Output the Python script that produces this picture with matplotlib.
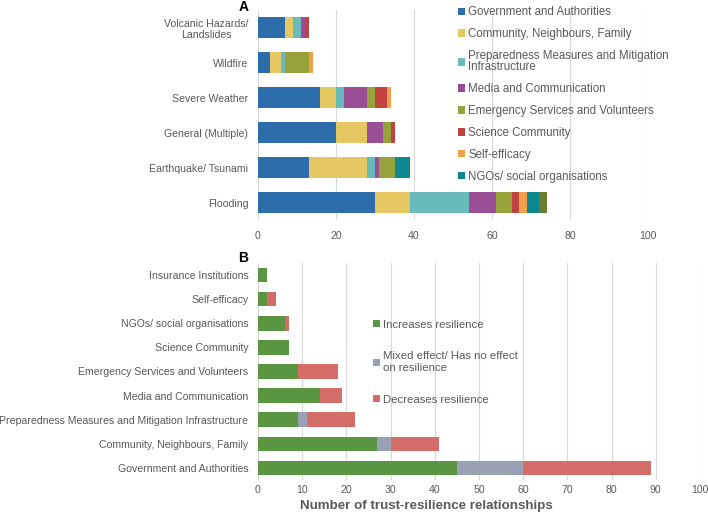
import numpy as np
import matplotlib.pyplot as plt

plt.rcParams['font.family'] = ['Liberation Sans', 'DejaVu Sans']
GREY = '#595959'

# Panel A: trust sources by hazard type
hazards = ['Flooding', 'Earthquake/ Tsunami', 'General (Multiple)',
           'Severe Weather', 'Wildfire', 'Volcanic Hazards/\nLandslides']
sources = ['Government and Authorities', 'Community, Neighbours, Family',
           'Preparedness Measures and Mitigation\nInfrastructure',
           'Media and Communication', 'Emergency Services and Volunteers',
           'Science Community', 'Self-efficacy', 'NGOs/ social organisations',
           'Insurance Institutions']
gov = [30, 13, 20, 16, 3, 7]
community = [9, 15, 8, 4, 3, 2]
prepared = [15, 2, 0, 2, 1, 2]
media = [7, 1, 4, 6, 0, 1]
emergency = [4, 4, 2, 2, 6, 0]
science = [2, 0, 1, 3, 0, 1]
selfeff = [2, 0, 0, 1, 1, 0]
ngo = [3, 4, 0, 0, 0, 0]
insurance = [2, 0, 0, 0, 0, 0]
a_colors = ['#2e6dab', '#e6c862', '#69bbbb', '#9a4e95', '#98a23a',
            '#c0433f', '#f0a04b', '#0d8891', '#6a7d2c']

# Panel B: effect of trust on resilience by source
b_cats = ['Government and Authorities', 'Community, Neighbours, Family',
          'Preparedness Measures and Mitigation Infrastructure',
          'Media and Communication', 'Emergency Services and Volunteers',
          'Science Community', 'NGOs/ social organisations', 'Self-efficacy',
          'Insurance Institutions']
increases = [45, 27, 9, 14, 9, 7, 6, 2, 2]
mixed = [15, 3, 2, 0, 0, 0, 0, 0, 0]
decreases = [29, 11, 11, 5, 9, 0, 1, 2, 0]
effects = ['Increases resilience', 'Mixed effect/ Has no effect\non resilience',
           'Decreases resilience']
b_colors = ['#5a9642', '#99a2b4', '#d46d67']

fig = plt.figure(figsize=(7.08, 5.16), dpi=100)
axA = fig.add_axes([0.3644, 0.5736, 0.551, 0.407])
axB = fig.add_axes([0.3644, 0.0698, 0.6243, 0.4205])

def style(ax):
    for s in ax.spines.values():
        s.set_visible(False)
    ax.grid(axis='x', color='#d9d9d9', lw=0.8)
    ax.set_axisbelow(True)
    ax.tick_params(length=0, colors=GREY, labelsize=7.6)
    ax.set_xlim(0, 100)

series_a = [gov, community, prepared, media, emergency, science, selfeff, ngo, insurance]
ya = np.arange(len(hazards))
left = np.zeros(len(hazards))
bars_a = []
for vals, col, lab in zip(series_a, a_colors, sources):
    b = axA.barh(ya, vals, left=left, height=0.6, color=col, label=lab)
    bars_a.append(b)
    left += np.array(vals)
style(axA)
axA.set_yticks(ya)
axA.set_yticklabels(hazards, multialignment='center')
axA.tick_params(axis='y', pad=7)
axA.tick_params(axis='x', pad=8)
axA.set_xticks(range(0, 101, 20))
axA.set_ylim(-0.5, 5.5)

series_b = [increases, mixed, decreases]
yb = np.arange(len(b_cats))
left = np.zeros(len(b_cats))
bars_b = []
for vals, col, lab in zip(series_b, b_colors, effects):
    b = axB.barh(yb, vals, left=left, height=0.6, color=col, label=lab)
    bars_b.append(b)
    left += np.array(vals)
style(axB)
axB.set_yticks(yb)
axB.set_yticklabels(b_cats)
axB.tick_params(axis='y', pad=7)
axB.set_xticks(range(0, 101, 10))
axB.set_ylim(-0.5, 8.5)
axB.set_xlabel('Number of trust-resilience relationships', fontsize=9.6,
               fontweight='bold', color=GREY)
axB.xaxis.set_label_coords(0.382, -0.092)

legA = fig.legend(bars_a[:8], sources[:8], loc='upper left',
                  bbox_to_anchor=(0.632, 1.008), frameon=False, fontsize=8.3,
                  handlelength=0.6, handleheight=0.6, handletextpad=0.3,
                  labelspacing=0.86, labelcolor=GREY)
legA.get_texts()[2].set_linespacing(0.9)

legB = fig.legend(bars_b, effects, loc='upper left',
                  bbox_to_anchor=(0.512, 0.4), frameon=False, fontsize=8.2,
                  handlelength=0.6, handleheight=0.6, handletextpad=0.3,
                  labelspacing=1.9, labelcolor=GREY)

fig.text(0.3435, 0.987, 'A', fontsize=10, fontweight='bold', ha='center', va='center')
fig.text(0.3435, 0.5, 'B', fontsize=10, fontweight='bold', ha='center', va='center')

fig.savefig('out.png', dpi=100)
